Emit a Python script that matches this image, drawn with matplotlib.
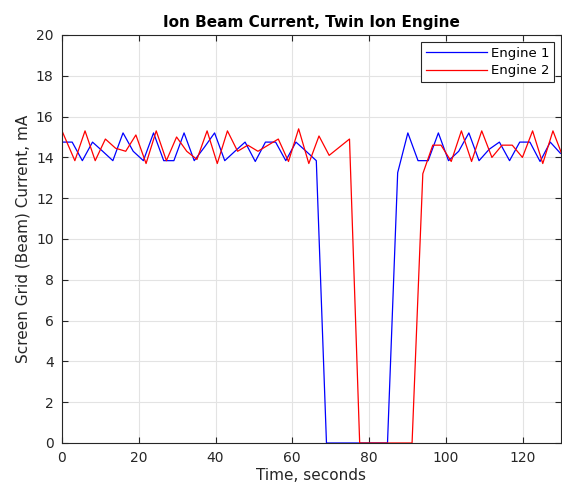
import matplotlib

matplotlib.use("Agg")
import matplotlib.pyplot as plt

# sample times (s) and currents (mA)
t_eng1 = [0.0, 2.65, 5.3, 7.95, 10.6, 13.25, 15.9, 18.55, 21.2, 23.85,
          26.5, 29.15, 31.8, 34.45, 37.1, 39.75, 42.4, 45.05, 47.7, 50.35,
          53.0, 55.65, 58.3, 60.95, 63.6, 66.25, 68.9, 71.55, 74.2, 76.85,
          79.5, 82.15, 84.8, 87.45, 90.1, 92.75, 95.4, 98.05, 100.7, 103.35,
          106.0, 108.65, 111.3, 113.95, 116.6, 119.25, 121.9, 124.55, 127.2, 129.85]
i_eng1 = [14.75, 14.75, 13.84, 14.75, 14.3, 13.84, 15.2, 14.3, 13.84, 15.2,
          13.84, 13.84, 15.2, 13.84, 14.5, 15.2, 13.84, 14.3, 14.75, 13.8,
          14.75, 14.75, 13.84, 14.75, 14.3, 13.84, 0.0, 0.0, 0.0, 0.0,
          0.0, 0.0, 0.0, 13.25, 15.2, 13.84, 13.84, 15.2, 13.84, 14.3,
          15.2, 13.84, 14.4, 14.75, 13.84, 14.75, 14.75, 13.8, 14.75, 14.2]

t_eng2 = [0.0, 3.35, 6.0, 8.65, 11.3, 13.95, 16.6, 19.25, 21.9, 24.55,
          27.2, 29.85, 32.5, 35.15, 37.8, 40.45, 43.1, 45.75, 48.4, 51.05,
          53.7, 56.35, 59.0, 61.65, 64.3, 66.95, 69.6, 72.25, 74.9, 77.55,
          80.2, 82.85, 85.5, 88.15, 91.2, 94.0, 96.6, 98.75, 101.4, 104.05,
          106.7, 109.35, 112.0, 114.65, 117.3, 119.95, 122.6, 125.25, 127.9, 130.55]
i_eng2 = [15.3, 13.84, 15.3, 13.84, 14.9, 14.45, 14.3, 15.1, 13.7, 15.3,
          13.84, 15.0, 14.3, 13.9, 15.3, 13.7, 15.3, 14.3, 14.6, 14.3,
          14.6, 14.9, 13.8, 15.4, 13.7, 15.05, 14.1, 14.5, 14.9, 0.0,
          0.0, 0.0, 0.0, 0.0, 0.0, 13.2, 14.6, 14.6, 13.8, 15.3,
          13.8, 15.3, 14.0, 14.6, 14.6, 14.0, 15.3, 13.7, 15.3, 14.0]

x_ticks = [0, 20, 40, 60, 80, 100, 120]
y_ticks = [0, 2, 4, 6, 8, 10, 12, 14, 16, 18, 20]

fig = plt.figure(figsize=(5.62, 4.91), dpi=100)
ax = fig.add_axes([62 / 562, 48 / 491, 499 / 562, 408 / 491])

ax.plot(t_eng1, i_eng1, color="#0000ff", lw=0.9, label="Engine 1")
ax.plot(t_eng2, i_eng2, color="#ff0000", lw=0.9, label="Engine 2")

ax.set_xlim(0, 130)
ax.set_ylim(0, 20)
ax.set_xticks(x_ticks)
ax.set_yticks(y_ticks)
ax.grid(True, color="#e3e3e3", lw=0.8)
ax.set_axisbelow(True)
ax.tick_params(direction="in", top=True, right=True, length=4, width=0.8,
               labelsize=10, colors="#262626", pad=6)
for sp in ax.spines.values():
    sp.set_color("#262626")
    sp.set_linewidth(0.8)

ax.set_title("Ion Beam Current, Twin Ion Engine", fontsize=11, fontweight="bold",
             color="black", pad=6)
ax.set_xlabel("Time, seconds", fontsize=11, color="#262626", labelpad=2)
ax.set_ylabel("Screen Grid (Beam) Current, mA", fontsize=11, color="#262626", labelpad=4)

leg = ax.legend(loc="upper right", fontsize=9.5, fancybox=False, framealpha=1,
                edgecolor="#262626", handlelength=4.6, borderpad=0.35,
                labelspacing=0.35, handletextpad=0.3, borderaxespad=0.55)
leg.get_frame().set_linewidth(0.8)

fig.savefig("out.png", dpi=100)
